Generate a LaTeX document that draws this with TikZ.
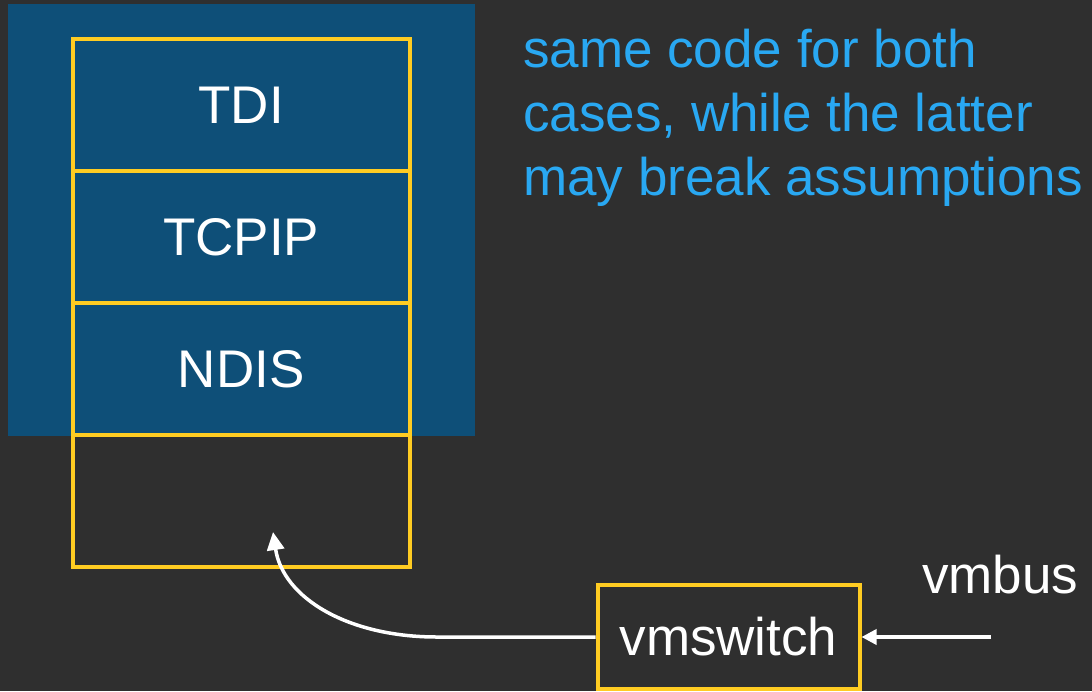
\documentclass[tikz,border=0pt]{standalone}
\usepackage{fontspec}
\setmainfont{Liberation Sans}
\usetikzlibrary{arrows.meta}
\definecolor{bg}{HTML}{2F2F2F}
\definecolor{panel}{HTML}{0E4F78}
\definecolor{frame}{HTML}{FFCC22}
\definecolor{note}{HTML}{29A8F2}

\tikzset{
  big/.style={font=\fontsize{53}{64}\selectfont},
  layer/.style={big, draw=frame, line width=4pt, minimum width=337.5pt,
    minimum height=132pt, inner sep=0pt, text=white},
  switchbox/.style={big, draw=frame, line width=4pt, minimum width=262pt,
    minimum height=104pt, inner sep=0pt, text=white},
  wire/.style={draw=white, line width=3.5pt},
  head/.style={-{Triangle[length=18pt,width=17pt]}},
  smallhead/.style={-{Triangle[length=15pt,width=15pt]}}
}

\begin{document}
\begin{tikzpicture}[x=1pt,y=-1pt]
  % canvas
  \fill[bg] (0,0) rectangle (1092,691);
  \useasboundingbox (0,0) rectangle (1092,691);

  % guest panel
  \fill[panel] (8,4) rectangle (475,435.5);

  % protocol stack
  \node[layer] (tdi)   at (241.25,105) {TDI};
  \node[layer] (tcpip) at (241.25,237) {TCPIP};
  \node[layer] (ndis)  at (241.25,369) {NDIS};
  \node[layer] (slot)  at (241.25,501) {};

  % host switch
  \node[switchbox] (vms) at (728.5,636.5) {vmswitch};
  \node[big, text=white, anchor=base west, inner sep=0pt] (vmbus) at (922,593) {vmbus};

  % note
  \node[big, text=note, anchor=north west, align=left, inner sep=0pt] (note) at (523,29)
    {same code for both\\cases, while the latter\\may break assumptions};

  % connectors
  \coordinate (busin) at (991,637);
  \coordinate (bend) at (437,637);
  \coordinate (tip) at (273,532);
  \draw[wire, smallhead] (busin) -- (vms.east |- busin);
  \draw[wire, head] (vms.west |- bend) -- (bend)
    .. controls (348,637) and (283,598) .. (tip);
\end{tikzpicture}
\end{document}
